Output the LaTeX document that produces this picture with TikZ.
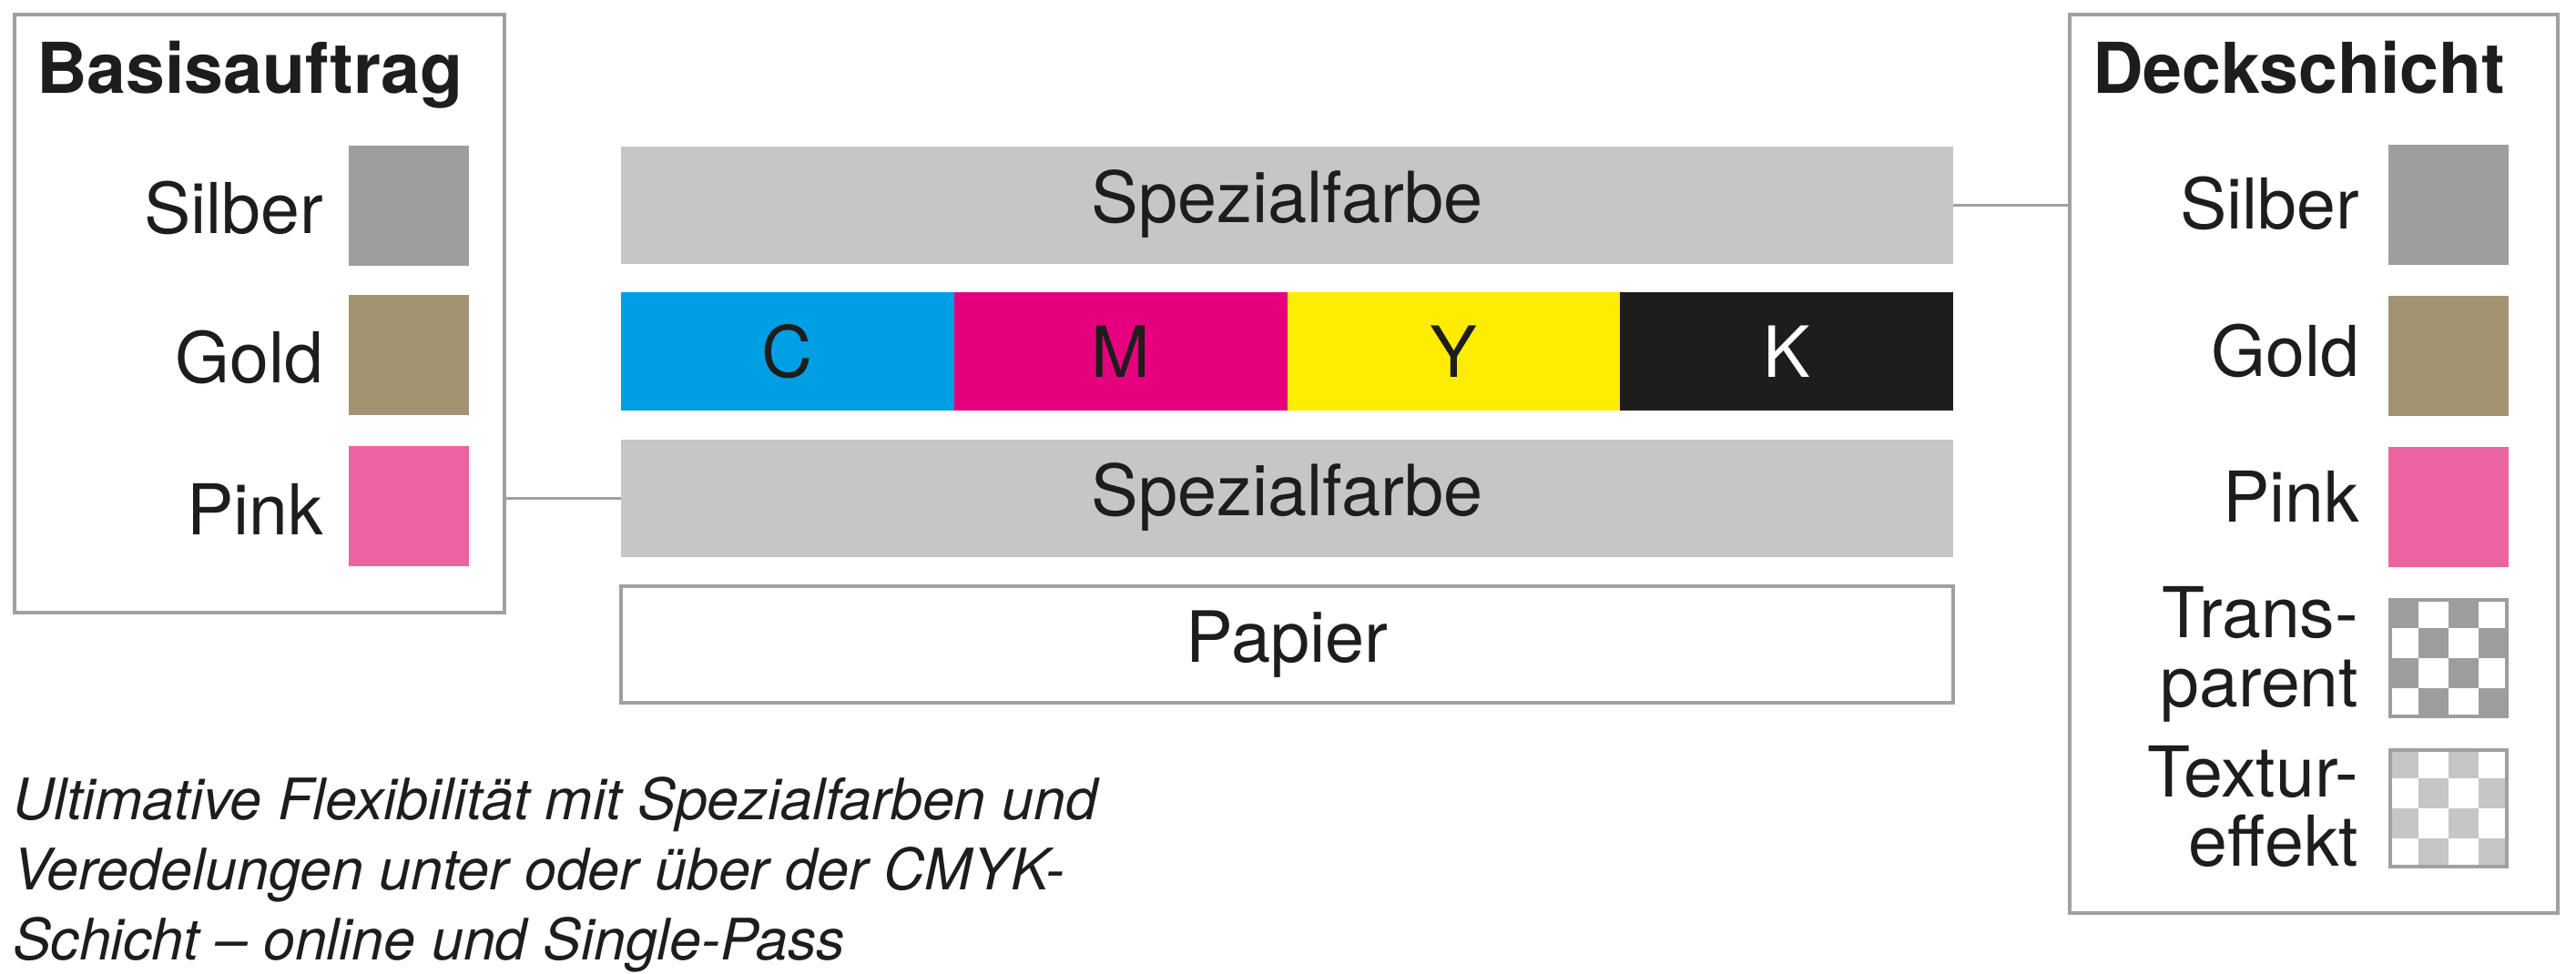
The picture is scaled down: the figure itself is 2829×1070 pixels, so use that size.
\documentclass[tikz,border=0pt]{standalone}
\usepackage{fontspec}
\setmainfont{TeX Gyre Heros}
\usetikzlibrary{calc}
\definecolor{txt}{HTML}{1D1D1B}
\definecolor{linegray}{HTML}{A0A0A0}
\definecolor{bargray}{HTML}{C6C6C6}
\definecolor{silber}{HTML}{9D9EA0}
\definecolor{gold}{HTML}{A39373}
\definecolor{pinkc}{HTML}{EB63A0}
\definecolor{cyanc}{HTML}{009FE3}
\definecolor{magc}{HTML}{E5007E}
\definecolor{yelc}{HTML}{FFED00}
\definecolor{blkc}{HTML}{1D1D1B}
\definecolor{chkdark}{HTML}{9D9D9D}
\definecolor{chklight}{HTML}{C6C6C6}
\newcommand\lblfont{\fontsize{19.25}{19}\selectfont}
\newcommand\barfont{\fontsize{19.4}{19}\selectfont}
\newcommand\headfont{\fontsize{19.25}{19}\selectfont\bfseries}
\newcommand\capfont{\fontsize{15.7}{19.25}\selectfont\itshape}
\begin{document}
\begin{tikzpicture}[x=0.25pt, y=-0.25pt,
  every node/.style={inner sep=0pt, outer sep=0pt, text=txt},
  layer/.style={anchor=north west, minimum width=365.75pt, minimum height=32.25pt, fill=bargray, font=\barfont, text height=9.5pt, text depth=0pt},
  ink/.style={anchor=north west, minimum width=91.44pt, minimum height=32.5pt, font=\barfont, text height=14pt, text depth=0pt},
  frame/.style={anchor=north west, draw=linegray, line width=1pt},
  swatch/.style={anchor=north west, minimum width=33pt, minimum height=33pt},
  lbl/.style={anchor=base east, font=\lblfont},
  lbltwo/.style={anchor=east, font=\lblfont, align=right},
  head/.style={anchor=base west, font=\headfont},
  conn/.style={draw=linegray, line width=0.75pt},
  chkborder/.style={draw=linegray, line width=1pt},
]
\useasboundingbox[fill=white] (0,0) rectangle (2829,1070);

% legend frames
\node[frame, minimum width=134.5pt, minimum height=164.25pt] (lbox) at (16,16) {};
\node[frame, minimum width=134pt, minimum height=246.75pt] (rbox) at (2273,16) {};

% headings
\node[head] (lhead) at (40,103) {Basisauftrag};
\node[head] (rhead) at (2298,103) {Deckschicht};

% left legend
\node[swatch, fill=silber] (ls) at (383,160) {};
\node[swatch, fill=gold] (lg) at (383,324) {};
\node[swatch, fill=pinkc] (lp) at (383,490) {};
\node[lbl] (lsl) at (355,257) {Silber};
\node[lbl] (lgl) at (355,421) {Gold};
\node[lbl] (lpl) at (355,587) {Pink};

% right legend
\node[swatch, fill=silber] (rs) at (2623,159) {};
\node[swatch, fill=gold] (rg) at (2623,325) {};
\node[swatch, fill=pinkc] (rp) at (2623,491) {};
\node[swatch, fill=white] (rt) at (2623,657) {};
\node[swatch, fill=white] (rx) at (2623,822) {};
\node[lbl] (rsl) at (2591,252) {Silber};
\node[lbl] (rgl) at (2591,413) {Gold};
\node[lbl] (rpl) at (2591,573) {Pink};
\node[lbltwo] (rtl) at (2590,719) {Trans-\\parent};
\node[lbltwo] (rxl) at (2590,886) {Textur-\\effekt};

% checkerboards
\begin{scope}[shift={(rt.north west)}]
  \foreach \i in {0,...,3}{\foreach \j in {0,...,3}{
    \pgfmathparse{int(mod(\i+\j,2))}
    \ifnum\pgfmathresult=0
      \fill[chkdark] (\i*33,\j*33) rectangle ++(33,33);
    \fi}}
\end{scope}
\draw[chkborder, draw=chkdark] ($(rt.north west)+(2,2)$) rectangle ($(rt.south east)+(-2,-2)$);
\begin{scope}[shift={(rx.north west)}]
  \foreach \i in {0,...,3}{\foreach \j in {0,...,3}{
    \pgfmathparse{int(mod(\i+\j,2))}
    \ifnum\pgfmathresult=0
      \fill[chklight] (\i*33,\j*33) rectangle ++(33,33);
    \fi}}
\end{scope}
\draw[chkborder] ($(rx.north west)+(2,2)$) rectangle ($(rx.south east)+(-2,-2)$);

% layers
\node[layer] (spez1) at (682,161) {Spezialfarbe};
\node[ink, fill=cyanc] (c) at (682,321) {C};
\node[ink, fill=magc] (m) at (1047.75,321) {M};
\node[ink, fill=yelc] (y) at (1413.5,321) {Y};
\node[ink, fill=blkc, text=white] (k) at (1779.25,321) {K};
\node[layer] (spez2) at (682,483) {Spezialfarbe};
\node[layer, fill=white, draw=linegray, line width=1pt, minimum height=32pt] (papier) at (682,644) {Papier};

% connectors
\draw[conn] (lbox.east |- spez2.west) -- (spez2.west);
\draw[conn] (spez1.east) -- (rbox.west |- spez1.east);

% caption
\node[anchor=north west, font=\capfont, align=left] (caption) at (14,854)
  {Ultimative Flexibilität mit Spezialfarben und\\Veredelungen unter oder über der CMYK-\\Schicht – online und Single-Pass};
\end{tikzpicture}
\end{document}
